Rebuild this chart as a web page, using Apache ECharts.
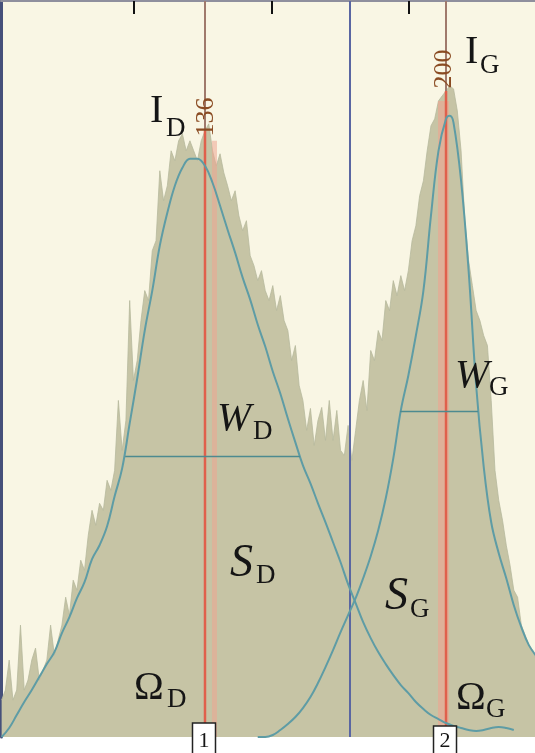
<!DOCTYPE html>
<html><head><meta charset="utf-8">
<script src="https://cdn.jsdelivr.net/npm/echarts@6/dist/echarts.min.js"></script>
<style>html,body{margin:0;padding:0;background:#fff;}#c{width:535px;height:753px;}</style>
</head><body><div id="c"></div>
<script>
// ---------- DATA ----------
const histStart = 82; // first bin (channel units), one bin per unit
const histCounts = [37,47,77,37,47,112,47,57,77,89,
57,67,77,112,82,97,112,140,122,157,
147,177,167,202,227,212,234,227,257,247,
267,337,287,317,437,357,377,417,447,437,
487,497,567,537,552,587,577,597,604,587,
597,587,577,597,607,614,587,572,584,565,
552,537,547,522,507,517,482,472,457,467,
447,437,452,427,442,417,407,377,392,352,
337,307,329,292,317,330,297,337,297,327,
287,282,312,277,307,337,357,327,387,377,
407,397,437,427,457,442,462,447,467,497,
512,542,557,587,612,619,637,642,647,652,
649,627,587,517,477,452,427,417,402,392,
337,267,237,217,192,172,147,140,112,102,
92,87,77];
const fitDX = [82,84,86,88,90,92,94,96,98,100,102,104,106,108,110,112,114,116,118,120,122,124,126,128,130,132,134,136,138,140,142,144,146,148,150,152,154,156,158,160,162,164,166,168,170,172,174,176,178,180,182,184,186,188,190,192,194,196,198,200,202,204,206,208,210,212,214,216,218];
const fitDY = [0,9,22,35,47,60,73,85,104,120,139,155,178,192,211,241,269,314,359,407,447,492,525,552,570,579,579,572,555,532,508,485,460,438,413,391,366,344,319,295,272,254,234,215,195,175,153,134,115,99,85,73,62,52,44,35,28,22,18,14,11,9,7,6,7,9,10,9,7];
const fitGX = [150,152,154,156,158,160,162,164,166,168,170,172,174,176,178,180,182,184,186,188,190,192,194,196,198,200,201,202,204,206,208,210,212,214,216,218,220,222,224];
const fitGY = [0,0,2,7,13,20,29,40,54,70,87,105,122,139,159,181,207,239,279,327,362,402,447,522,587,619,622,615,557,467,352,271,215,184,159,132,110,92,81];
const peakPositions = [136, 200];       // red lines
const splitPosition = 174.5;            // blue line
const widthD = {from:114.8, to:161.2, level:281};
const widthG = {from:187.8, to:208.5, level:326};
const tickValues = [117.15, 153.8, 190.2];
const xMin = 81.83, xMax = 223.63, yMax = 737;

// ---------- CHART ----------
const chart = echarts.init(document.getElementById('c'));
const histData = histCounts.map((v,i)=>[histStart+i, v]);
const histAt = u => histCounts[Math.round(u) - histStart];
const serif = "'Liberation Serif','DejaVu Serif',serif";

const option = {
  animation:false,
  backgroundColor:'#ffffff',
  grid:{left:1,right:0,top:1,bottom:16,show:true,backgroundColor:'#f9f6e4',borderWidth:0},
  xAxis:{type:'value',min:xMin,max:xMax,position:'top',
    axisLine:{show:true,onZero:false,lineStyle:{color:'#8f8f9d',width:2}},
    axisTick:{show:true,inside:true,length:13,customValues:tickValues,lineStyle:{color:'#111',width:2}},
    axisLabel:{show:false},splitLine:{show:false}},
  yAxis:{type:'value',min:0,max:yMax,
    axisLine:{show:true,onZero:false,lineStyle:{color:'#46507a',width:3}},
    axisTick:{show:false},axisLabel:{show:false},splitLine:{show:false}},
  series:[
    {type:'line',data:histData,symbol:'none',z:1,silent:true,
     lineStyle:{width:0.8,color:'#b6b99d'},areaStyle:{color:'#c6c4a5',opacity:1},
     markLine:{silent:true,symbol:'none',label:{show:false},z:2,
       data:[
         {xAxis:peakPositions[0],lineStyle:{color:'#a07a6c',width:2,type:'solid'}},
         {xAxis:peakPositions[1],lineStyle:{color:'#a07a6c',width:2,type:'solid'}},
         {xAxis:splitPosition,lineStyle:{color:'#5a66a2',width:2,type:'solid'}}
       ]}},
    {type:'line',data:[[peakPositions[0],0],[peakPositions[0],histAt(peakPositions[0])]],symbol:'none',z:4,
     lineStyle:{color:'#e0604c',width:2.5}},
    {type:'line',data:[[peakPositions[1],0],[peakPositions[1],histAt(peakPositions[1])]],symbol:'none',z:4,
     lineStyle:{color:'#e0604c',width:2.5}},
    {type:'line',data:fitDX.map((x,i)=>[x,fitDY[i]]),symbol:'none',smooth:0.4,z:5,
     lineStyle:{color:'#5e9ca5',width:2}},
    {type:'line',data:fitGX.map((x,i)=>[x,fitGY[i]]),symbol:'none',smooth:0.4,z:5,
     lineStyle:{color:'#5e9ca5',width:2}},
    {type:'line',data:[[widthD.from,widthD.level],[widthD.to,widthD.level]],symbol:'none',z:5,
     lineStyle:{color:'#4d8a90',width:1.5}},
    {type:'line',data:[[widthG.from,widthG.level],[widthG.to,widthG.level]],symbol:'none',z:5,
     lineStyle:{color:'#4d8a90',width:1.5}}
  ]
};
chart.setOption(option);

const P = (x,y)=>chart.convertToPixel({gridIndex:0},[x,y]);
const g = [];
// halos around red lines (inside the filled area)
const base = P(xMin,0)[1];
const r1 = P(peakPositions[0], histAt(peakPositions[0]));
const r2 = P(peakPositions[1], histAt(peakPositions[1]));
g.push({type:'rect',z:3,shape:{x:r1[0]+7,y:r1[1]+10,width:5,height:base-r1[1]-10},style:{fill:'rgba(238,165,145,0.55)'}});
g.push({type:'rect',z:3,shape:{x:r2[0]-8,y:r2[1]+10,width:11,height:base-r2[1]-10},style:{fill:'rgba(238,165,145,0.6)'}});

// text labels: [main, sub, italic, mainSize, mainX, mainY, subX, subY]
const labels = [
  ['I','D',false,40,150,111,166,129],
  ['I','G',false,40,465,52,480,66],
  ['W','D',true,41,217,419,253,432],
  ['W','G',true,41,455,376,489,388],
  ['S','D',true,46,230,564,256,576],
  ['S','G',true,46,385,597,410,610],
  ['\u03A9','D',false,40,134,688,167,700],
  ['\u03A9','G',false,40,456,698,486,710]
];
labels.forEach(l=>{
  g.push({type:'text',z:100,x:l[4],y:l[5],style:{text:l[0],font:(l[2]?'italic ':'')+l[3]+'px '+serif,fill:'#151515',align:'left',verticalAlign:'middle'}});
  g.push({type:'text',z:100,x:l[6],y:l[7],style:{text:l[1],font:'27px '+serif,fill:'#151515',align:'left',verticalAlign:'middle'}});
});
// rotated peak position numbers
const numY = [117, 69], numDx = [1, -2];
peakPositions.forEach((p,i)=>{
  const px = P(p,0)[0];
  g.push({type:'text',z:100,x:px+numDx[i],y:numY[i],rotation:Math.PI/2,
    style:{text:String(p),font:'26px '+serif,fill:'#8a4b22',align:'center',verticalAlign:'middle'}});
});
// numbered boxes at the bottom
const boxTop = [723, 726];
peakPositions.forEach((p,i)=>{
  const px = P(p,0)[0];
  g.push({type:'rect',z:100,shape:{x:px-12.5,y:boxTop[i],width:23,height:40},style:{fill:'#ffffff',stroke:'#222',lineWidth:1.5}});
  g.push({type:'text',z:101,x:px-1,y:741,style:{text:String(i+1),font:'22px '+serif,fill:'#151515',align:'center',verticalAlign:'middle'}});
});
chart.setOption({graphic:g});
</script></body></html>
